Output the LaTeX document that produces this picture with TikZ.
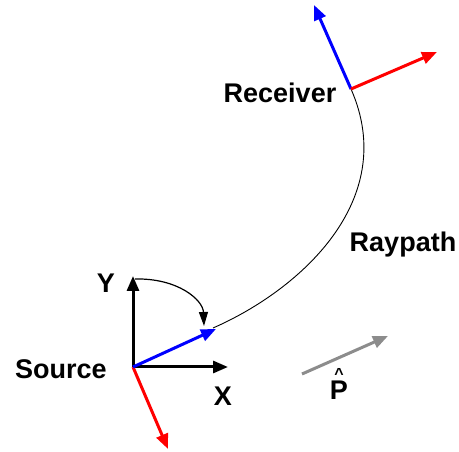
\documentclass[tikz,border=0pt]{standalone}
\usepackage{fontspec}
\setmainfont{Liberation Sans}
\usetikzlibrary{arrows.meta}
\begin{document}
\begin{tikzpicture}[x=1pt,y=-1pt,
  vec/.style={line width=3pt,-{Triangle[length=15pt,width=12pt]}},
  lbl/.style={font=\fontsize{27}{30}\selectfont\bfseries,inner sep=0pt,anchor=base}]
\useasboundingbox (0,0) rectangle (459,452);
% coordinates
\coordinate (src) at (133,367);
\coordinate (ytip) at (133,276);
\coordinate (xtip) at (228,367);
\coordinate (rtip) at (168,449);
\coordinate (btip) at (216,329);
\coordinate (rec) at (351,89);
\coordinate (rbtip) at (314,5);
\coordinate (rrtip) at (437,52);
\coordinate (ps) at (302,374);
\coordinate (pe) at (388,336);
\coordinate (arcs) at (135,279);
\coordinate (arce) at (204,326);
% raypath
\draw[line width=0.9pt] (213,328) .. controls (300,290) and (400,200) .. (rec);
% source frame
\draw[vec] (src) -- (ytip);
\draw[vec] (src) -- (xtip);
\draw[vec,red] (src) -- (rtip);
\draw[vec,blue] (src) -- (btip);
% curved arrow
\draw[line width=1.2pt,-{Triangle[length=14pt,width=9pt]}] (arcs) .. controls (178,278) and (203,300) .. (arce);
% receiver frame
\draw[vec,blue] (rec) -- (rbtip);
\draw[vec,red] (rec) -- (rrtip);
% P hat
\draw[vec,gray!90] (ps) -- (pe);
% labels
\node[lbl] (lrec) at (280,103) {Receiver};
\node[lbl] (lray) at (403,252) {Raypath};
\node[lbl] (lsrc) at (61,378) {Source};
\node[lbl] (ly) at (106,293) {Y};
\node[lbl] (lx) at (223,406) {X};
\node[lbl,align=center,anchor=south] (lp) at (339,400) {{\fontsize{16}{16}\selectfont\^{}}\\[-10pt]P};
\end{tikzpicture}
\end{document}
